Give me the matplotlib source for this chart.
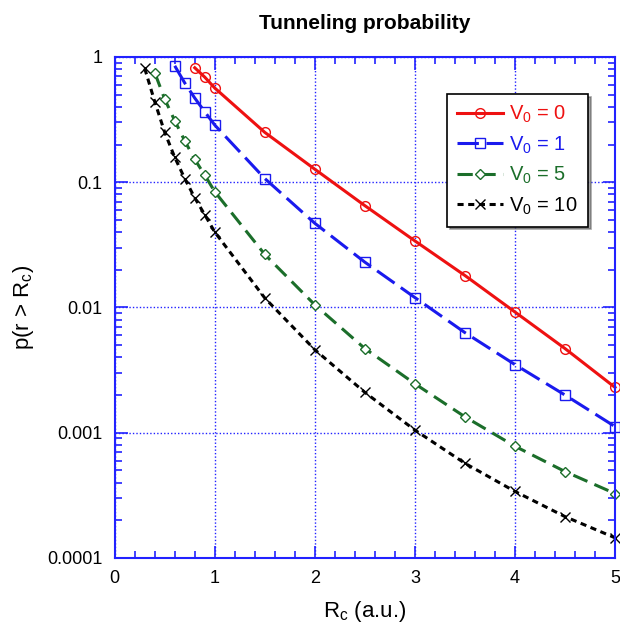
import matplotlib.pyplot as plt
from matplotlib.ticker import FixedLocator, NullFormatter, MultipleLocator

plt.rcParams['font.family'] = ['Liberation Sans', 'DejaVu Sans']

# V0 = 0
r0 = [0.8, 0.9, 1.0, 1.5, 2.0, 2.5, 3.0, 3.5, 4.0, 4.5, 5.0]
p0 = [0.82, 0.69, 0.565, 0.25, 0.127, 0.065, 0.034, 0.018, 0.0092, 0.0047, 0.0023]
# V0 = 1
r1 = [0.6, 0.7, 0.8, 0.9, 1.0, 1.5, 2.0, 2.5, 3.0, 3.5, 4.0, 4.5, 5.0]
p1 = [0.85, 0.62, 0.47, 0.365, 0.286, 0.107, 0.047, 0.023, 0.012, 0.0063, 0.0035, 0.002, 0.00112]
# V0 = 5
r5 = [0.4, 0.5, 0.6, 0.7, 0.8, 0.9, 1.0, 1.5, 2.0, 2.5, 3.0, 3.5, 4.0, 4.5, 5.0]
p5 = [0.75, 0.46, 0.31, 0.214, 0.152, 0.114, 0.084, 0.0265, 0.0105, 0.0047, 0.00246,
      0.00134, 0.00078, 0.00049, 0.000327]
# V0 = 10
r10 = [0.3, 0.4, 0.5, 0.6, 0.7, 0.8, 0.9, 1.0, 1.5, 2.0, 2.5, 3.0, 3.5, 4.0, 4.5, 5.0]
p10 = [0.81, 0.44, 0.25, 0.158, 0.107, 0.075, 0.055, 0.04, 0.0119, 0.0046, 0.0021,
       0.00105, 0.00057, 0.00034, 0.000214, 0.000145]

ytick_vals = [1, 0.1, 0.01, 0.001, 0.0001]
ytick_labels = ['1', '0.1', '0.01', '0.001', '0.0001']

fig = plt.figure(figsize=(6.2, 6.33), dpi=100)
ax = fig.add_axes([0.185, 0.1185, 0.807, 0.7915])

ax.plot(r0, p0, color='#ee1111', lw=2.2, ls='-', marker='o', ms=7,
        mfc='none', mec='#ee1111', mew=1, label=r'V$_{\mathregular{0}}$ = 0', clip_on=False)
ax.plot(r1, p1, color='#1a1aee', lw=2.2, ls=(0, (7, 2.5)), marker='s', ms=7,
        mfc='none', mec='#1a1aee', mew=1, label=r'V$_{\mathregular{0}}$ = 1', clip_on=False)
ax.plot(r5, p5, color='#1b6e2a', lw=2.2, ls=(0, (5, 2.5)), marker='D', ms=5,
        mfc='white', mec='#1b6e2a', mew=1, label=r'V$_{\mathregular{0}}$ = 5', clip_on=False)
ax.plot(r10, p10, color='black', lw=2.2, ls=(0, (2, 1.5)), marker='x', ms=7,
        mec='black', mew=1, label=r'V$_{\mathregular{0}}$ = 10', clip_on=False)

ax.set_yscale('log')
ax.set_xlim(0, 5)
ax.set_ylim(0.0001, 1)

ax.xaxis.set_major_locator(MultipleLocator(1))
ax.xaxis.set_minor_locator(MultipleLocator(0.2))
ax.yaxis.set_major_locator(FixedLocator(ytick_vals))
ax.set_yticklabels(ytick_labels)
ax.yaxis.set_minor_formatter(NullFormatter())

ax.grid(True, which='major', color='#2222ff', ls=(0, (1, 1.5)), lw=1)
for s in ax.spines.values():
    s.set_color('#2222ff')
    s.set_linewidth(1.5)
ax.tick_params(which='both', direction='in', top=True, right=True,
               color='#2222ff', labelsize=13, pad=9)
ax.tick_params(which='major', length=9, width=1.2)
ax.tick_params(which='minor', length=5, width=1.2)

ax.set_title('Tunneling probability', fontsize=15, fontweight='bold', pad=20)
ax.set_xlabel(r'R$_{\mathregular{c}}$ (a.u.)', fontsize=16, labelpad=8)
ax.set_ylabel(r'p(r > R$_{\mathregular{c}}$)', fontsize=16, labelpad=8)

leg = ax.legend(loc='upper right', bbox_to_anchor=(0.946, 0.926), fontsize=14.5,
                labelcolor='linecolor', fancybox=False, shadow=True,
                edgecolor='black', framealpha=1, handlelength=2.3,
                handletextpad=0.3, borderpad=0.5, labelspacing=0.45,
                borderaxespad=0)
leg.get_frame().set_linewidth(1.2)

fig.savefig('out.png', dpi=100)
